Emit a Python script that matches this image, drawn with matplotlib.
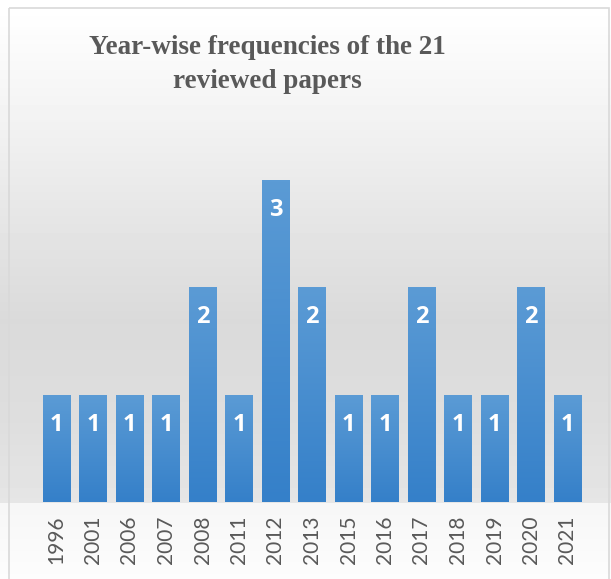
import numpy as np
import matplotlib
matplotlib.use("Agg")
from matplotlib import pyplot as plt
from matplotlib.colors import LinearSegmentedColormap
from matplotlib.patches import Rectangle

years = ["1996", "2001", "2006", "2007", "2008", "2011", "2012", "2013",
         "2015", "2016", "2017", "2018", "2019", "2020", "2021"]
papers = [1, 1, 1, 1, 2, 1, 3, 2, 1, 1, 2, 1, 1, 2, 1]
title = "Year-wise frequencies of the 21\nreviewed papers"

W, H = 611, 579
fig = plt.figure(figsize=(W / 100, H / 100), dpi=100)

# chart area background: vertical grey gradient, lighter band under the axis
bg = fig.add_axes([0, 0, 1, 1], zorder=-10)
rows = np.arange(H)
shade = np.interp(rows, [0, 20, 120, 220, 320, 420, 502, 503, 579],
                  [1.0, 0.995, 0.95, 0.9, 0.855, 0.87, 0.9, 0.965, 0.99])
bg.imshow(shade[:, None] * np.ones((1, W)), cmap="gray", vmin=0, vmax=1,
          aspect="auto", extent=(0, W, H, 0))
bg.set_xlim(0, W)
bg.set_ylim(H, 0)
bg.axis("off")
bg.add_patch(Rectangle((8.5, 7.5), 600, 600, fill=False,
                       edgecolor="#d9d9d9", lw=1.2))

ax = fig.add_axes([38.25 / W, 77 / H, 547.5 / W, 376 / H])
ax.patch.set_alpha(0)
x = np.arange(len(years))
bars = ax.bar(x, papers, width=0.74, color="#4a8fd2", zorder=2)

blue = LinearSegmentedColormap.from_list("bar", ["#3580c9", "#5b9bd5"])
grad = np.linspace(0, 1, 100)[:, None]
for b in bars:
    im = ax.imshow(grad, cmap=blue, origin="lower", aspect="auto", zorder=3,
                   extent=(b.get_x(), b.get_x() + b.get_width(),
                           0, b.get_height()))
    im.set_clip_path(b)

for xi, v in zip(x, papers):
    ax.annotate(str(v), (xi, v), xytext=(0, -30), textcoords="offset pixels",
                ha="center", va="center", color="white", fontsize=17,
                fontweight="bold", family="Open Sans", zorder=4)

ax.set_xlim(-0.5, len(years) - 0.5)
ax.set_ylim(0, 3.5)
ax.set_xticks(x)
ax.set_xticklabels(years, rotation=90, family="Lato", fontsize=15,
                   color="#595959")
ax.tick_params(axis="x", length=0, pad=10)
ax.set_yticks([])
for s in ax.spines.values():
    s.set_visible(False)

fig.text(267 / W, 1 - 88 / H, title, ha="center", va="baseline",
         family="Liberation Serif", fontweight="bold", fontsize=19.5,
         color="#595959", linespacing=1.5)

fig.savefig("out.png", dpi=100)
